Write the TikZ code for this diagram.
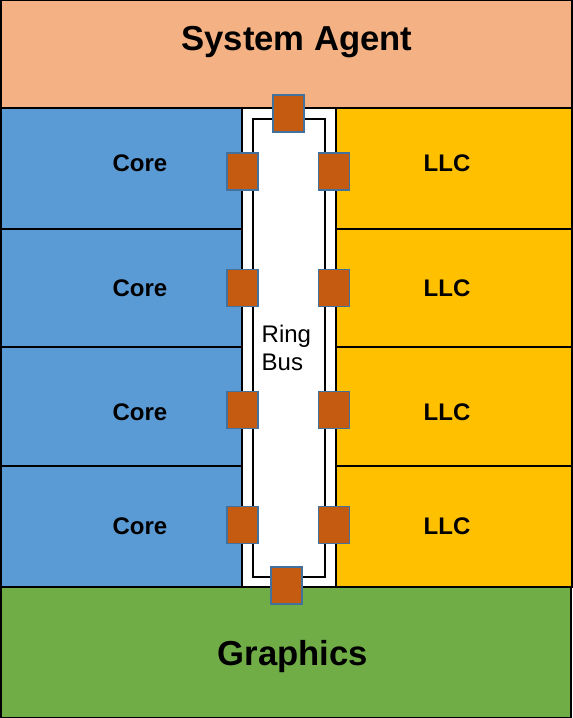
\documentclass[tikz,border=0pt]{standalone}
\usepackage{fontspec}
\setmainfont{Liberation Sans}
\usepackage{xcolor}
\definecolor{colAgent}{HTML}{F4B183}
\definecolor{colCore}{HTML}{5B9BD5}
\definecolor{colLLC}{HTML}{FFC000}
\definecolor{colGfx}{HTML}{70AD47}
\definecolor{colStop}{HTML}{C55A11}
\definecolor{colStopEdge}{HTML}{41719C}
\usepackage{tikz}
\usetikzlibrary{positioning}
\tikzset{
	blockbox/.style={draw, line width=1.2pt, fill=#1},
	bigtext/.style={font=\bfseries\fontsize{26}{31}\selectfont},
	celltext/.style={font=\bfseries\fontsize{18}{21.6}\selectfont},
	stopbox/.style={draw=colStopEdge, line width=0.9pt, fill=colStop, minimum width=23.25pt, minimum height=27.75pt, inner sep=0pt},
}

\begin{document}
\begin{tikzpicture}[x=0.75pt, y=-0.75pt]
	\useasboundingbox (0,0) rectangle (573,718);
	% system agent
	\draw[blockbox=colAgent] (1,0) rectangle (572,108);
	\node[bigtext] (agent) at (297,42) {System Agent};
	% cores and LLC slices
	\foreach \i/\top/\bot/\ty in {1/108/229/163, 2/229/347/288, 3/347/466/412, 4/466/587/526} {
		\draw[blockbox=colCore] (1,\top) rectangle (242,\bot);
		\draw[blockbox=colLLC] (336,\top) rectangle (572,\bot);
		\node[celltext] (core\i) at (140,\ty) {Core};
		\node[celltext] (llc\i) at (447,\ty) {LLC};
	}
	% ring bus
	\draw[line width=1.2pt, fill=white] (242,108) rectangle (336,587);
	\draw[line width=1.2pt] (253,119) rectangle (325,577);
	\node[font=\fontsize{18}{20.5}\selectfont, align=left, anchor=west] (ring) at (257,348) {Ring\\Bus};
	% graphics
	\draw[blockbox=colGfx] (1,587) rectangle (571,718);
	\node[bigtext] (gfx) at (293,657) {Graphics};
	% ring stops
	\foreach \i/\sy in {1/171.5, 2/288, 3/410, 4/525} {
		\node[stopbox] (lstop\i) at (242.5,\sy) {};
		\node[stopbox] (rstop\i) at (334,\sy) {};
	}
	\node[stopbox] (tstop) at (288.5,113.5) {};
	\node[stopbox] (bstop) at (286.5,585.5) {};
\end{tikzpicture}
\end{document}
